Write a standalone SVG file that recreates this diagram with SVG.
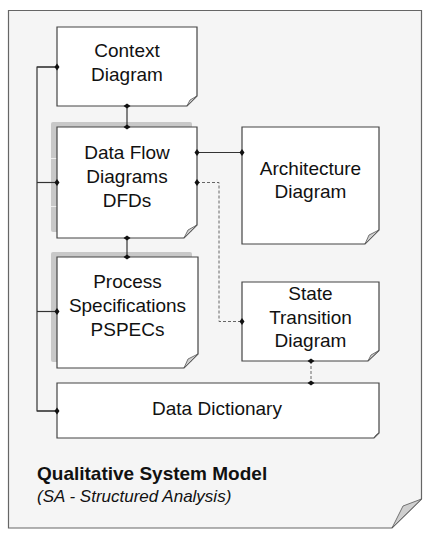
<svg xmlns="http://www.w3.org/2000/svg" width="430" height="536" viewBox="0 0 430 536">
<style>
.frame{fill:#f5f5f5;stroke:#666;stroke-width:1.2}
.box{fill:#fff;stroke:#444;stroke-width:1.2}
.fold{fill:#cfcfcf;stroke:#555;stroke-width:0.8;stroke-linejoin:round}
.shadow{fill:#c8c8c8}
.sep{stroke:#eee;stroke-width:1}
.lbl{font-family:"Liberation Sans",Arial,sans-serif;font-size:19px;fill:#111;text-anchor:middle}
.title{font-family:"Liberation Sans",Arial,sans-serif;font-size:19px;font-weight:bold;fill:#111}
.sub{font-family:"Liberation Sans",Arial,sans-serif;font-size:17px;font-style:italic;fill:#111}
.solid{fill:none;stroke:#333;stroke-width:1.2}
.dash{fill:none;stroke:#666;stroke-width:1;stroke-dasharray:3 2}
.dm{marker-start:url(#dia);marker-end:url(#dia)}
.de{marker-end:url(#dia)}
</style>
<defs>
<marker id="dia" viewBox="-4 -4 8 8" refX="0" refY="0" markerWidth="8" markerHeight="8" markerUnits="userSpaceOnUse" orient="auto">
<path d="M-2.5,0 L0,-3.5 L2.5,0 L0,3.5 Z" fill="#111"/>
</marker>
</defs>

<g id="frame">
<path class="frame" d="M8.5,10.5 H421.5 V499 L392,528 H8.5 Z"/>
<path class="fold" d="M421.5,499 L403,506 L392,528 Z"/>
<text class="title" x="37" y="480">Qualitative System Model</text>
<text class="sub" x="37" y="502">(SA - Structured Analysis)</text>
</g>

<g id="context">
<path class="box" d="M57,27 H197 V96 L187,106 H57 Z"/>
<path class="fold" d="M197,96 L190,100 L187,106 Z"/>
<text class="lbl" x="127" y="56.5">Context</text>
<text class="lbl" x="127" y="80.5">Diagram</text>
</g>

<g id="dfd">
<rect class="shadow" x="51" y="122" width="141" height="110" rx="2"/>
<line class="sep" x1="51" y1="158.5" x2="57" y2="158.5"/>
<line class="sep" x1="51" y1="206.5" x2="57" y2="206.5"/>
<path class="box" d="M57,127 H197 V225 L184,238 H57 Z"/>
<path class="fold" d="M197,225 L188,230 L184,238 Z"/>
<text class="lbl" x="127" y="158.5">Data Flow</text>
<text class="lbl" x="127" y="182.5">Diagrams</text>
<text class="lbl" x="127" y="206.5">DFDs</text>
</g>

<g id="architecture">
<path class="box" d="M242,127 H379 V230 L365,244 H242 Z"/>
<path class="fold" d="M379,230 L369,235 L365,244 Z"/>
<text class="lbl" x="310.5" y="174.5">Architecture</text>
<text class="lbl" x="310.5" y="197.5">Diagram</text>
</g>

<g id="pspec">
<rect class="shadow" x="51" y="252" width="141" height="110" rx="2"/>
<path class="box" d="M57,257 H198 V354 L184,368 H57 Z"/>
<path class="fold" d="M198,354 L188,359 L184,368 Z"/>
<text class="lbl" x="127.5" y="287.5">Process</text>
<text class="lbl" x="127.5" y="311.5">Specifications</text>
<text class="lbl" x="127.5" y="335.5">PSPECs</text>
</g>

<g id="state">
<path class="box" d="M242,282 H379 V350.5 L368,361 H242 Z"/>
<path class="fold" d="M379,350.5 L371,355 L368,361 Z"/>
<text class="lbl" x="310.5" y="300">State</text>
<text class="lbl" x="310.5" y="323.5">Transition</text>
<text class="lbl" x="310.5" y="347">Diagram</text>
</g>

<g id="datadict">
<path class="box" d="M57,383 H379 V433 L374,438 H57 Z"/>
<path class="fold" d="M379,433 L376,435 L374,438 Z"/>
<text class="lbl" x="217" y="415">Data Dictionary</text>
</g>

<g id="connectors">
<path class="solid" d="M57,67 H37 V411 H57"/>
<path class="solid de" d="M37,67 H57"/>
<path class="solid de" d="M37,182.5 H57"/>
<path class="solid de" d="M37,311.5 H57"/>
<path class="solid de" d="M37,411 H57"/>
<path class="solid dm" d="M127,106 V127"/>
<path class="solid dm" d="M127,238 V257"/>
<path class="solid dm" d="M197,152.5 H242"/>
<path class="dash dm" d="M197,182.5 H219 V321.5 H242"/>
<path class="dash dm" d="M311,361 V383"/>
</g>
</svg>
